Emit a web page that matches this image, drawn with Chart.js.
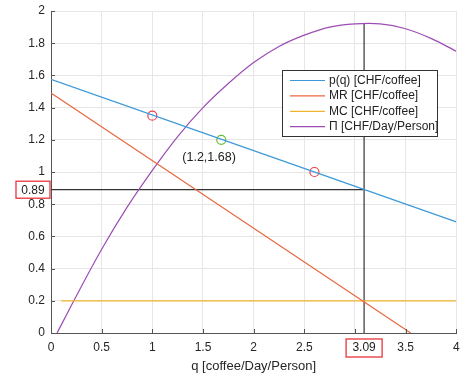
<!DOCTYPE html>
<html>
<head>
<meta charset="utf-8">
<script src="https://cdn.jsdelivr.net/npm/chart.js@4.4.0/dist/chart.umd.min.js"></script>
<style>
  html, body { margin: 0; padding: 0; background: #fff; }
</style>
</head>
<body>
<canvas id="profitChart" width="462" height="376"></canvas>
<script>
// Values
const priceQ = [0, 4];
const priceP = [1.575, 0.69];
const mrQ = [0, 3.55];
const mrV = [1.49, 0];
const mcQ = [0.1, 4];
const mcV = [0.2, 0.2];
const profitQ = [0.06, 0.25, 0.5, 0.75, 1, 1.25, 1.5, 1.75, 2, 2.25, 2.5, 2.75, 3, 3.25, 3.5, 3.75, 4];
const profitV = [0, 0.23, 0.52, 0.78, 1.01, 1.22, 1.40, 1.55, 1.68, 1.78, 1.85, 1.90, 1.92, 1.92, 1.89, 1.83, 1.75];
const redMarkQ = [1, 2.6];
const redMarkP = [1.35, 1.0];
const greenMarkQ = [1.68];
const greenMarkP = [1.2];
const optQ = 3.09;
const optP = 0.89;
const optProfit = 1.92;
const pointNote = '(1.2,1.68)';
const noteQ = 1.56;
const noteP = 1.09;
const seriesLabels = ['p(q) [CHF/coffee]', 'MR [CHF/coffee]', 'MC [CHF/coffee]', 'Π [CHF/Day/Person]'];
const xTitle = 'q [coffee/Day/Person]';

const FONT = '"Liberation Sans", Arial, Helvetica, sans-serif';
const colors = ['#3d9ad9', '#e8693f', '#f0b431', '#9c4db4'];

const pts = (xs, ys) => xs.map((x, i) => ({ x: x, y: ys[i] }));

const lineSet = (label, data, color) => ({
    label: label,
    data: data,
    showLine: true,
    borderColor: color,
    borderWidth: 1.2,
    pointRadius: 0,
    tension: 0.3,
    fill: false
});

const markSet = (data, color) => ({
    label: '',
    data: data,
    showLine: false,
    pointRadius: 4.5,
    pointStyle: 'circle',
    backgroundColor: 'rgba(0,0,0,0)',
    borderColor: color,
    borderWidth: 1.2
});

// legend, inner ticks, note text and the red boxes
const decor = {
    id: 'decor',
    afterDraw(chart) {
        const ctx = chart.ctx;
        const xs = chart.scales.x;
        const ys = chart.scales.y;
        const area = chart.chartArea;
        ctx.save();

        // inward tick marks
        ctx.strokeStyle = '#555';
        ctx.lineWidth = 1;
        ctx.beginPath();
        xs.ticks.forEach(t => {
            const px = Math.round(xs.getPixelForValue(t.value)) + 0.5;
            ctx.moveTo(px, area.bottom);
            ctx.lineTo(px, area.bottom - 4);
        });
        ys.ticks.forEach(t => {
            const py = Math.round(ys.getPixelForValue(t.value)) + 0.5;
            ctx.moveTo(area.left, py);
            ctx.lineTo(area.left + 4, py);
        });
        ctx.stroke();

        // note next to the green point
        ctx.fillStyle = '#222';
        ctx.font = '12.5px ' + FONT;
        ctx.textAlign = 'center';
        ctx.textBaseline = 'middle';
        ctx.fillText(pointNote, xs.getPixelForValue(noteQ), ys.getPixelForValue(noteP));

        // legend box
        const lx = 282, ly = 70, lw = 155, lh = 66;
        ctx.fillStyle = '#fff';
        ctx.fillRect(lx, ly, lw, lh);
        ctx.strokeStyle = '#333';
        ctx.strokeRect(lx + 0.5, ly + 0.5, lw, lh);
        ctx.font = '12px ' + FONT;
        ctx.textAlign = 'left';
        seriesLabels.forEach((lab, i) => {
            const ry = ly + 10.5 + i * 15.4;
            ctx.strokeStyle = colors[i];
            ctx.lineWidth = 1.2;
            ctx.beginPath();
            ctx.moveTo(lx + 8, ry);
            ctx.lineTo(lx + 43, ry);
            ctx.stroke();
            ctx.fillStyle = '#222';
            ctx.fillText(lab, lx + 47, ry);
        });

        // red boxes for the optimum
        ctx.lineWidth = 1.3;
        ctx.strokeStyle = '#e8333c';
        ctx.textAlign = 'center';
        const by = ys.getPixelForValue(optP);
        ctx.fillStyle = '#fff';
        ctx.fillRect(16, by - 8.5, 34, 17);
        ctx.strokeRect(16, by - 8.5, 34, 17);
        ctx.fillStyle = '#222';
        ctx.fillText(String(optP), 33, by + 0.5);

        const bx = xs.getPixelForValue(optQ);
        ctx.fillStyle = '#fff';
        ctx.fillRect(bx - 18, area.bottom + 6, 36, 18);
        ctx.strokeRect(bx - 18, area.bottom + 6, 36, 18);
        ctx.fillStyle = '#222';
        ctx.fillText(String(optQ), bx, area.bottom + 15);

        ctx.restore();
    }
};

const ctxProfit = document.getElementById('profitChart').getContext('2d');
const profitChart = new Chart(ctxProfit, {
    type: 'scatter',
    data: {
        datasets: [
            lineSet(seriesLabels[0], pts(priceQ, priceP), colors[0]),
            lineSet(seriesLabels[1], pts(mrQ, mrV), colors[1]),
            lineSet(seriesLabels[2], pts(mcQ, mcV), colors[2]),
            lineSet(seriesLabels[3], pts(profitQ, profitV), colors[3]),
            markSet(pts(redMarkQ, redMarkP), '#ee4146'),
            markSet(pts(greenMarkQ, greenMarkP), '#69bd3a'),
            lineSet('', [{ x: optQ, y: 0 }, { x: optQ, y: optProfit }], '#333'),
            lineSet('', [{ x: 0, y: optP }, { x: optQ, y: optP }], '#333')
        ]
    },
    options: {
        responsive: false,
        animation: false,
        layout: { padding: { top: 11, right: 5, left: 0, bottom: 0 } },
        plugins: {
            legend: { display: false },
            tooltip: { enabled: false }
        },
        scales: {
            x: {
                type: 'linear',
                min: 0,
                max: 4,
                afterFit: s => { s.height = 43; s.paddingLeft = 0; s.paddingRight = 0; },
                ticks: {
                    stepSize: 0.5,
                    padding: 7,
                    color: '#262626',
                    font: { family: FONT, size: 12 },
                    maxRotation: 0,
                    callback: v => String(Math.round(v * 100) / 100)
                },
                grid: { color: '#e6e6e6', drawTicks: false },
                border: { color: '#555', width: 1 },
                title: {
                    display: true,
                    text: xTitle,
                    color: '#262626',
                    font: { family: FONT, size: 13 },
                    padding: { top: 0, bottom: 2 }
                }
            },
            y: {
                min: 0,
                max: 2,
                afterFit: s => { s.width = 51; s.paddingTop = 0; s.paddingBottom = 0; },
                ticks: {
                    stepSize: 0.2,
                    padding: 6,
                    color: '#262626',
                    font: { family: FONT, size: 12 },
                    callback: v => String(Math.round(v * 100) / 100)
                },
                grid: { color: '#e6e6e6', drawTicks: false },
                border: { color: '#555', width: 1 }
            }
        }
    },
    plugins: [decor]
});
</script>
</body>
</html>
